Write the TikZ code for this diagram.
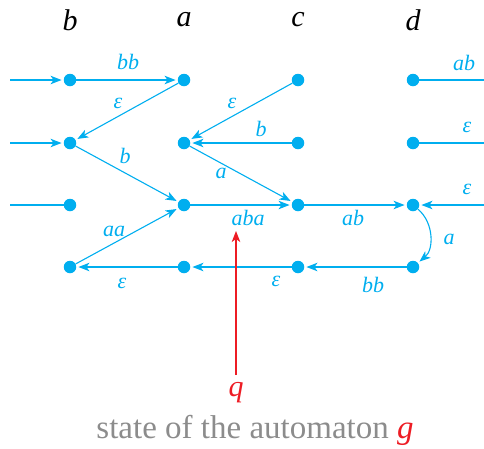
\documentclass[tikz,border=0pt]{standalone}
\usepackage{fontspec}
\setmainfont{Liberation Serif}
\usetikzlibrary{arrows.meta}
\definecolor{cy}{RGB}{0,174,239}
\definecolor{rd}{RGB}{237,28,36}
\definecolor{gr}{RGB}{140,140,140}
\tikzset{
  st/.style={circle,fill=cy,inner sep=0pt,minimum size=12.5pt},
  tip/.style={-{Stealth[length=11pt,width=8.5pt,inset=3pt]}},
  ed/.style={draw=cy,line width=1.1pt,tip,shorten >=2pt},
  ln/.style={draw=cy,line width=1.1pt},
  lb/.style={text=cy,font=\fontsize{22}{24}\selectfont\itshape,inner sep=1pt},
  col/.style={font=\fontsize{30}{34}\selectfont\itshape,text=black}
}
\begin{document}
\begin{tikzpicture}[x=1pt,y=-1pt]
\useasboundingbox (0,0) rectangle (484,448);
% column labels
\node[col] (lb) at (70,20) {b};
\node[col] (la) at (184,20) {a};
\node[col] (lc) at (298,20) {c};
\node[col] (ld) at (413,20) {d};
% states
\node[st] (b1) at (70,80) {};
\node[st] (a1) at (184,80) {};
\node[st] (c1) at (298,80) {};
\node[st] (d1) at (413,80) {};
\node[st] (b2) at (70,143) {};
\node[st] (a2) at (184,143) {};
\node[st] (c2) at (298,143) {};
\node[st] (d2) at (413,143) {};
\node[st] (b3) at (70,205) {};
\node[st] (a3) at (184,205) {};
\node[st] (c3) at (298,205) {};
\node[st] (d3) at (413,205) {};
\node[st] (b4) at (70,267) {};
\node[st] (a4) at (184,267) {};
\node[st] (c4) at (298,267) {};
\node[st] (d4) at (413,267) {};
% free ends
\coordinate (l1) at (10,80);
\coordinate (l2) at (10,143);
\coordinate (l3) at (10,205);
\coordinate (r1) at (484,80);
\coordinate (r2) at (484,143);
\coordinate (r3) at (484,205);
% edges
\draw[ed] (l1) -- (b1);
\draw[ed] (l2) -- (b2);
\draw[ln] (l3) -- (b3);
\draw[ln] (d1) -- (r1);
\draw[ln] (d2) -- (r2);
\draw[ed] (r3) -- (d3);
\draw[ed] (b1) -- (a1);
\draw[ed] (a1) -- (b2);
\draw[ed] (c1) -- (a2);
\draw[ed] (c2) -- (a2);
\draw[ed] (b2) -- (a3);
\draw[ed] (a2) -- (c3);
\draw[ed] (a3) -- (c3);
\draw[ed] (c3) -- (d3);
\draw[ed] (b4) -- (a3);
\draw[ed] (d3) to[out=-40,in=40] (d4);
\draw[ed] (d4) -- (c4);
\draw[ed] (c4) -- (a4);
\draw[ed] (a4) -- (b4);
% labels
\node[lb] (t1) at (128,62) {bb};
\node[lb] (t2) at (118,103) {ε};
\node[lb] (t3) at (232,103) {ε};
\node[lb] (t4) at (261,129) {b};
\node[lb] (t5) at (125,156) {b};
\node[lb] (t6) at (221,173) {a};
\node[lb] (t7) at (248,218) {aba};
\node[lb] (t8) at (353,218) {ab};
\node[lb] (t9) at (467,189) {ε};
\node[lb] (t10) at (449,239) {a};
\node[lb] (t11) at (114,231) {aa};
\node[lb] (t12) at (122,283) {ε};
\node[lb] (t13) at (276,281) {ε};
\node[lb] (t14) at (373,285) {bb};
\node[lb] (t15) at (464,63) {ab};
\node[lb] (t16) at (467,127) {ε};
% red pointer
\node[text=rd,font=\fontsize{30}{34}\selectfont\itshape] (q) at (236,393) {q};
\coordinate (qt) at (236,231);
\draw[draw=rd,line width=1.1pt,tip] (q.north) ++(0,-4) -- (qt);
\node[text=gr,font=\fontsize{33}{36}\selectfont] (cap) at (255,430) {state of the automaton \textcolor{rd}{\itshape g}};
\end{tikzpicture}
\end{document}
